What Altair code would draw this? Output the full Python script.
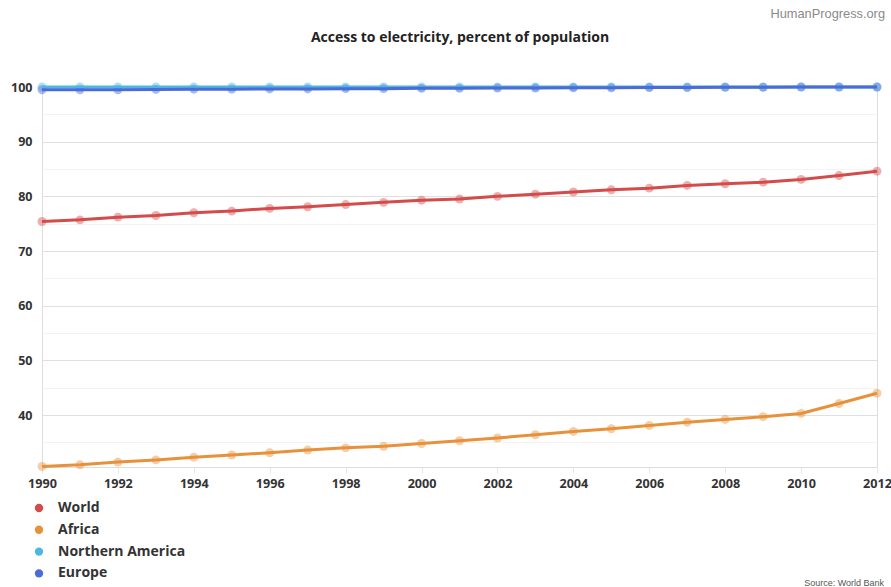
import altair as alt
import pandas as pd

years = list(range(1990, 2013))
series_names = ["World", "Africa", "Northern America", "Europe"]
world = [75.4, 75.7, 76.2, 76.5, 77.0, 77.3, 77.8, 78.1, 78.5, 78.9, 79.3,
         79.5, 80.0, 80.4, 80.8, 81.2, 81.5, 82.0, 82.3, 82.6, 83.1, 83.8, 84.6]
africa = [30.6, 30.9, 31.4, 31.8, 32.3, 32.7, 33.1, 33.6, 34.0, 34.3, 34.8,
          35.3, 35.8, 36.4, 37.0, 37.5, 38.1, 38.7, 39.2, 39.7, 40.3, 42.1, 44.0]
northern_america = [100.0] * 23
europe = [99.5, 99.5, 99.5, 99.55, 99.6, 99.6, 99.65, 99.65, 99.7, 99.7, 99.75,
          99.75, 99.8, 99.8, 99.85, 99.85, 99.9, 99.9, 99.95, 99.95, 100.0, 100.0, 100.0]
colors = ["#d44b4b", "#e8913b", "#4cb7e4", "#4b6bd6"]
x_ticks = list(range(1990, 2013, 2))
y_grid = list(range(35, 101, 5))

rows = []
for name, vals in zip(series_names, [world, africa, northern_america, europe]):
    for y, v in zip(years, vals):
        rows.append({"year": y, "value": v, "series": name})
df = pd.DataFrame(rows)

FONT = "Open Sans"

x_enc = alt.X("year:Q",
              scale=alt.Scale(domain=[1990, 2012], nice=False, zero=False),
              axis=alt.Axis(values=x_ticks, format="d", title=None, grid=False,
                            domain=False, tickColor="#e6e6e6", tickSize=6,
                            labelPadding=4, labelFont=FONT, labelFontSize=12.6,
                            labelFontWeight="bold", labelColor="#333333",
                            labelFlush=False))
y_enc = alt.Y("value:Q",
              scale=alt.Scale(domain=[30.5, 100], nice=False, zero=False),
              axis=alt.Axis(values=y_grid, title=None, domain=False, ticks=False,
                            labelPadding=10, labelFont=FONT, labelFontSize=12.5,
                            labelFontWeight="bold", labelColor="#333333",
                            labelExpr="datum.value % 10 === 0 ? datum.label : ''",
                            gridColor={"condition": {"test": "datum.value % 10 === 0",
                                                     "value": "#e0e0e0"},
                                       "value": "#f3f3f3"},
                            gridWidth=1))
color_enc = alt.Color("series:N",
                      scale=alt.Scale(domain=series_names, range=colors),
                      legend=alt.Legend(title=None, orient="none", legendX=-10,
                                        legendY=414, symbolType="circle",
                                        symbolSize=70, symbolStrokeWidth=0,
                                        symbolOpacity=1,
                                        labelFont=FONT, labelFontSize=14,
                                        labelFontWeight="bold", labelColor="#333333",
                                        rowPadding=7.8, padding=0, labelOffset=12))

base = alt.Chart(df)
points = base.mark_circle(size=80, opacity=0.45).encode(x=x_enc, y=y_enc, color=color_enc)
lines = base.mark_line(strokeWidth=3).encode(x=x_enc, y=y_enc, color=color_enc,
                                             order="year:Q")

title = alt.Chart(pd.DataFrame({"t": ["Access to electricity, percent of population"]})).mark_text(
    align="center", baseline="middle", font=FONT, fontSize=14, fontWeight="bold",
    color="#222222").encode(text="t:N", x=alt.value(418), y=alt.value(-49))
brand = alt.Chart(pd.DataFrame({"t": ["HumanProgress.org"]})).mark_text(
    align="right", baseline="middle", font="Liberation Sans", fontSize=12.8,
    color="#8a8a8a").encode(text="t:N", x=alt.value(843), y=alt.value(-73))
source = alt.Chart(pd.DataFrame({"t": ["Source: World Bank"]})).mark_text(
    align="right", baseline="middle", font="Liberation Sans", fontSize=9,
    color="#555555").encode(text="t:N", x=alt.value(842), y=alt.value(496))

chart = alt.layer(points, lines, title, brand, source).properties(
    width=835, height=380,
    autosize=alt.AutoSizeParams(type="none"),
    padding={"left": 42, "top": 87, "right": 14, "bottom": 120},
).configure_view(stroke=None).configure(background="white")

chart.save("out.html", embed_options={"renderer": "svg", "actions": False})
